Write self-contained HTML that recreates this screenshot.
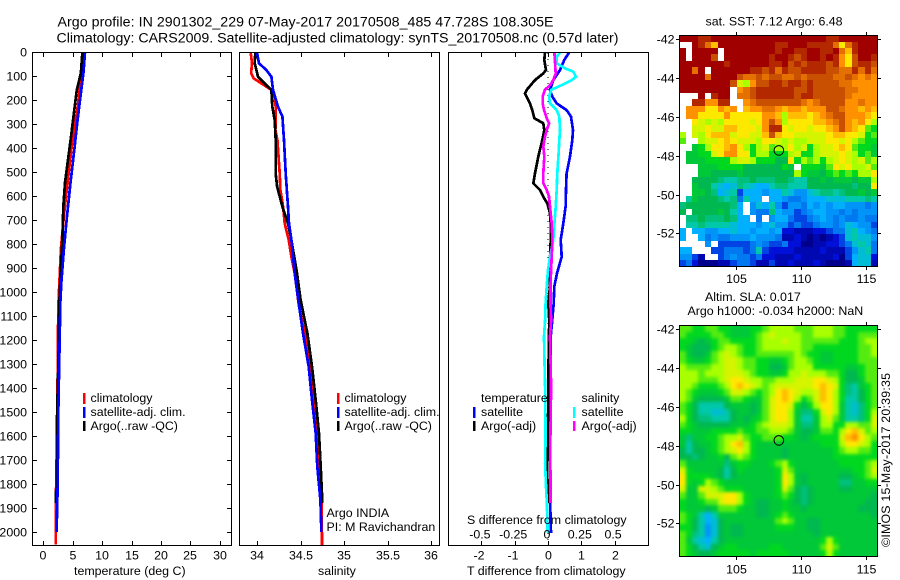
<!DOCTYPE html>
<html>
<head>
<meta charset="utf-8">
<title>Argo profile</title>
<style>
html,body{margin:0;padding:0;background:#fff;}
svg{display:block;font-family:"Liberation Sans",sans-serif;font-size:12.4px;fill:#000;}
.t{font-size:14.2px;}
.frame{fill:none;stroke:#000;stroke-width:1;shape-rendering:crispEdges;}
.tick{stroke:#000;stroke-width:1;shape-rendering:crispEdges;}
.ln{fill:none;stroke-width:2.7;shape-rendering:crispEdges;stroke-linejoin:round;}
.cell{shape-rendering:crispEdges;}
</style>
</head>
<body>
<svg id="fig" xmlns="http://www.w3.org/2000/svg" width="900" height="580" viewBox="0 0 900 580">
<defs>
<clipPath id="slaFrameClip"><rect x="680" y="326" width="198" height="231"/></clipPath>
<filter id="slaSoft" x="-5%" y="-5%" width="110%" height="110%" color-interpolation-filters="sRGB"><feGaussianBlur stdDeviation="1.5"/></filter>
</defs>
<rect x="0" y="0" width="900" height="580" fill="#fff"/>
<text class="t" x="57.5" y="26.5" textLength="496" lengthAdjust="spacing">Argo profile: IN 2901302_229 07-May-2017 20170508_485 47.728S 108.305E</text>
<text class="t" x="56.5" y="42.5" textLength="562" lengthAdjust="spacing">Climatology: CARS2009. Satellite-adjusted climatology: synTS_20170508.nc (0.57d later)</text>

<g id="maps">
<g id="sstCells"></g>
<g clip-path="url(#slaFrameClip)"><g id="slaCells" filter="url(#slaSoft)"></g></g>
</g>
<g id="series"></g>
<g id="axes"></g>

<rect class="frame" x="32.5" y="52.5" width="199" height="493"/>
<rect class="frame" x="239.5" y="52.5" width="200" height="493"/>
<rect class="frame" x="448.5" y="52.5" width="200" height="493"/>
<rect class="frame" x="679.5" y="35.5" width="198" height="231"/>
<rect class="frame" x="679.5" y="325.5" width="198" height="231"/>

<g>
<rect x="83" y="393" width="2.5" height="11" fill="#f00"/>
<rect x="83" y="407" width="2.5" height="11" fill="#00f"/>
<rect x="83" y="421" width="2.5" height="10" fill="#000"/>
<text x="90.5" y="402">climatology</text>
<text x="90.5" y="416">satellite-adj. clim.</text>
<text x="90.5" y="430">Argo(..raw -QC)</text>
</g>
<g>
<rect x="337" y="393" width="2.5" height="11" fill="#f00"/>
<rect x="337" y="407" width="2.5" height="11" fill="#00f"/>
<rect x="337" y="421" width="2.5" height="10" fill="#000"/>
<text x="344.5" y="402">climatology</text>
<text x="344.5" y="416">satellite-adj. clim.</text>
<text x="344.5" y="430">Argo(..raw -QC)</text>
<text x="326.5" y="517">Argo INDIA</text>
<text x="326.5" y="531">PI: M Ravichandran</text>
</g>
<g>
<text x="481" y="402">temperature</text>
<rect x="473" y="407" width="2.5" height="11" fill="#00f"/>
<rect x="473" y="421" width="2.5" height="10" fill="#000"/>
<text x="481" y="416">satellite</text>
<text x="481" y="430">Argo(-adj)</text>
<text x="581.5" y="402">salinity</text>
<rect x="573" y="407" width="2.5" height="11" fill="#0ff"/>
<rect x="573" y="421" width="2.5" height="10" fill="#f0f"/>
<text x="581.5" y="416">satellite</text>
<text x="581.5" y="430">Argo(-adj)</text>
</g>

<text x="74" y="575">temperature (deg C)</text>
<text x="318" y="575">salinity</text>
<text x="467" y="575">T difference from climatology</text>
<text x="467" y="524">S difference from climatology</text>

<text x="705.5" y="25.5">sat. SST: 7.12 Argo: 6.48</text>
<text x="705" y="301">Altim. SLA: 0.017</text>
<text x="687.5" y="315">Argo h1000: -0.034 h2000: NaN</text>
<text transform="translate(890,547) rotate(-90)" textLength="174" lengthAdjust="spacing">©IMOS 15-May-2017 20:39:35</text>
</svg>

<script>
const N = null;

/* temperature panel (deg C) */
const tempClimDepth = [0,80,150,228,300,400,541,680,820,950,1061,1300,1500,1800,1900,2053];
const tempClim = [6.7,6.5,6.2,5.85,5.4,4.8,4.15,3.5,3.0,2.75,2.55,2.45,2.4,2.2,2.1,2.1];
const tempSatDepth = [0,80,150,228,300,400,541,680,820,950,1061,1100,1300,1500,1800,2000];
const tempSat = [7.1,6.85,6.5,6.1,5.75,5.3,4.65,4.05,3.5,3.1,2.85,2.85,2.7,2.55,2.45,2.27];
const tempArgoDepth = [0,88,158,275,367,541,645,783,922,1061,1250,1600,1700,1820,1835,1880];
const tempArgo = [6.65,6.4,5.7,5.1,4.65,3.7,3.4,3.25,2.95,2.7,2.6,2.27,2.3,2.3,2.1,2.1];

/* salinity panel */
const salClimDepth = [3,47,89,110,131,158,193,228,325,367,506,575,644,714,783,853,922,1061,1172,1311,1450,1589,1728,1867,2054];
const salClim = [33.928,33.943,33.932,33.962,34.05,34.165,34.203,34.215,34.211,34.234,34.26,34.268,34.299,34.318,34.364,34.394,34.432,34.482,34.547,34.612,34.65,34.688,34.719,34.738,34.746];
const salSatDepth = [3,47,75,103,158,228,269,367,506,644,714,783,922,1033,1172,1311,1450,1589,1728,1867,2000];
const salSat = [34.0,34.023,34.107,34.165,34.184,34.241,34.291,34.31,34.329,34.356,34.367,34.394,34.432,34.474,34.528,34.593,34.631,34.673,34.692,34.727,34.738];
const salArgoDepth = [3,47,103,131,158,228,283,367,506,561,644,714,783,922,1033,1172,1311,1450,1589,1728,1880];
const salArgo = [33.98,33.974,34.012,34.088,34.165,34.176,34.203,34.215,34.215,34.23,34.291,34.356,34.394,34.459,34.5,34.578,34.631,34.673,34.711,34.73,34.75];

/* difference panel */
const diffTSatDepth = [3,33,75,117,158,186,214,242,269,325,367,436,506,575,644,714,783,853,922,977,1047,1116,1186,1500,1900,2005];
const diffTSat = [.63,.49,.36,.16,.06,.13,.26,.56,.69,.75,.73,.66,.56,.54,.53,.46,.38,.41,.27,.19,.17,.13,.08,.06,.07,.09];
const diffTArgoDepth = [3,33,75,89,117,158,172,214,242,276,297,325,367,436,506,547,575,603,631,672,714,783,839,853,977,1047,1116,1228,1463,1602,1741,1880];
const diffTArgo = [-.09,-.11,-.06,-.14,-.39,-.64,-.69,-.54,-.47,-.41,-.14,-.11,-.17,-.29,-.39,-.44,-.24,-.14,-.02,.06,.08,.08,.07,.06,.06,.01,.04,.02,.01,-.01,-.02,-.01];
const diffSSatDepth = [3,19,47,68,82,103,117,138,158,186,214,242,269,325,367,436,506,575,644,714,783,853,908,977,1047,1116,1186,1255,1394,1602,1714,1811,1880,2005];
const diffSSat = [.09,.065,.065,.128,.19,.21,.178,.103,.023,.008,.015,.065,.085,.09,.085,.078,.07,.065,.058,.048,.04,.015,.0,-.01,-.018,-.022,-.03,-.028,-.022,-.018,-.022,-.015,-.008,-.002];
const diffSArgoDepth = [3,47,89,117,138,158,186,214,242,276,297,325,367,394,436,506,547,575,603,644,714,783,853,908,977,1047,1116,1186,1394,1602,1741,1880];
const diffSArgo = [.048,.053,.058,.04,.015,-.023,-.04,-.04,-.03,-.01,.008,-.01,-.028,-.035,-.028,-.035,-.035,-.01,.008,.015,.028,.033,.028,.023,.018,.018,.023,.015,.023,.018,.018,.018];

/* axis ticks */
const depthTicks = [0,100,200,300,400,500,600,700,800,900,1000,1100,1200,1300,1400,1500,1600,1700,1800,1900,2000];
const tempTicks = [0,5,10,15,20,25,30];
const salTicks = [34,34.5,35,35.5,36];
const tDiffTicks = [-2,-1,0,1,2];
const sDiffTicks = [-0.5,-0.25,0,0.25,0.5];
const lonTicks = [105,110,115];
const latTicks = [-42,-44,-46,-48,-50,-52];

/* float position */
const floatLon = 108.305;
const floatLat = -47.728;

/* SST map cells, colour index 0 (cold) to 22 (warm), N = no data */
const sstGrid = [
[22,22,22,21,21,22,22,22,22,22,22,22,22,22,22,22,22,22,22,22,22,22,22,21,21,22,22,22,22,22,22],
[N,N,22,21,19,17,22,22,22,22,22,22,22,22,22,21,21,22,22,22,21,21,21,21,19,16,19,21,22,22,22],
[22,N,22,22,22,22,N,22,22,22,22,22,22,22,22,21,22,22,21,21,22,22,21,21,22,19,17,21,22,22,22],
[22,N,22,22,22,20,N,22,22,22,22,22,22,22,21,22,22,21,20,21,22,22,21,22,21,18,16,20,22,22,21],
[22,22,22,22,22,22,22,21,22,22,22,22,22,22,21,21,22,20,21,20,21,21,21,20,21,18,16,20,21,21,20],
[22,22,19,22,N,22,22,22,22,22,22,21,21,20,21,19,21,20,20,21,21,21,21,20,20,19,19,21,19,21,19],
[22,22,22,22,19,22,22,22,22,20,19,19,20,19,20,20,19,19,20,19,20,20,20,20,19,19,20,19,18,19,18],
[22,22,22,22,22,22,22,22,20,15,14,18,20,20,21,21,20,21,21,20,21,20,20,20,20,19,19,18,18,18,18],
[22,22,22,22,22,22,22,22,N,18,19,20,21,21,21,21,21,21,20,20,21,20,20,20,20,20,19,19,18,18,18],
[N,N,N,22,N,21,22,22,N,19,19,20,21,21,21,21,21,21,20,21,21,20,20,20,20,20,19,18,18,18,18],
[N,N,21,21,18,18,21,21,N,N,18,19,20,20,20,20,20,20,20,19,18,19,20,20,20,20,18,18,19,18,18],
[N,18,18,18,16,16,18,17,18,N,17,18,18,19,19,18,17,18,18,17,18,18,18,20,20,19,18,18,17,18,17],
[N,18,18,16,16,16,16,18,16,16,16,16,16,18,18,17,14,17,17,17,16,17,18,19,20,20,18,18,18,17,16],
[N,N,16,15,14,15,14,16,16,16,16,15,16,18,20,18,14,16,16,16,16,17,17,18,19,20,18,17,18,16,14],
[N,N,15,15,16,15,15,17,17,16,16,16,15,18,21,21,16,15,16,16,15,16,16,17,18,20,18,17,16,13,12],
[14,N,15,14,16,17,17,17,15,16,16,15,15,17,20,17,16,16,15,15,15,15,15,16,17,17,16,16,15,12,13],
[13,N,N,14,15,15,16,17,16,15,15,15,14,16,16,15,14,15,14,14,15,15,15,16,16,15,16,14,13,12,12],
[N,N,11,12,14,16,16,17,18,16,14,12,14,15,13,14,14,16,14,15,12,14,15,15,16,17,16,13,12,12,11],
[N,11,11,12,12,15,16,18,18,16,16,12,14,14,12,12,12,14,15,12,12,14,15,15,15,16,15,14,12,13,11],
[N,11,11,11,12,12,12,12,14,15,15,14,12,12,12,10,10,16,12,14,13,14,12,14,15,16,15,14,15,13,14],
[N,N,N,11,11,11,12,12,12,12,10,10,10,10,10,10,12,11,N,12,12,12,11,13,16,15,16,14,14,15,13],
[N,N,N,11,11,10,10,10,10,11,10,10,10,10,10,10,10,10,14,12,11,11,10,12,13,12,13,12,14,14,16],
[N,N,10,10,10,10,9,8,8,9,9,10,9,9,9,10,10,9,8,8,10,10,11,10,11,11,11,10,11,11,14],
[N,N,11,10,10,8,7,6,7,9,8,7,6,6,8,9,9,8,8,8,10,10,10,10,10,10,10,9,10,10,16],
[N,N,11,11,10,9,6,7,8,3,6,6,6,5,6,6,8,7,5,5,7,8,9,9,8,9,10,10,11,10,11],
[N,8,11,10,10,10,9,8,9,4,8,6,6,N,6,6,5,4,4,5,6,6,6,7,7,7,8,8,8,9,8],
[9,10,10,10,10,10,10,10,9,6,N,5,7,6,8,5,3,5,5,4,6,5,6,5,6,6,5,5,5,4,5],
[10,N,10,10,10,10,11,10,8,6,N,5,4,4,9,6,5,5,3,4,5,6,6,5,5,4,5,4,5,5,5],
[N,9,9,10,9,9,9,10,9,6,6,N,4,N,5,6,6,4,3,3,4,5,6,5,4,5,4,4,5,4,4],
[N,8,8,9,8,8,8,8,7,6,6,6,5,6,7,5,5,3,4,3,3,4,5,5,4,5,7,6,5,5,3],
[6,N,6,6,5,5,6,6,7,6,6,5,6,6,5,6,2,2,1,1,1,2,2,3,4,4,7,8,6,5,4],
[6,N,N,6,4,5,4,4,5,5,5,6,5,5,5,4,1,1,2,1,0,1,0,1,2,3,7,8,7,7,5],
[N,N,N,N,5,N,3,3,3,3,3,4,5,4,3,3,4,2,2,0,0,1,1,2,2,3,4,7,8,7,4],
[6,6,N,N,N,3,3,4,4,4,3,4,8,3,2,2,2,2,1,1,1,1,2,1,1,1,3,5,7,8,4],
[5,5,3,1,N,N,3,4,5,4,4,3,4,2,2,1,1,1,2,1,1,1,1,1,2,0,3,6,7,7,2],
[3,4,2,0,0,0,1,1,3,4,4,3,1,1,3,1,1,2,1,1,1,2,1,0,0,0,1,6,7,7,1]
];

/* SLA map cells, colour index on the same scale */
const slaGrid = [
[13,13,12,12,13,13,12,12,11,11,11,12,12,13,14,14,14,14,13,13,13,14,14,14,13,13,12,12,12,12,12],
[13,12,12,12,12,13,13,12,11,11,11,12,13,14,15,14,14,14,14,13,13,14,14,14,13,13,12,12,13,13,13],
[12,12,11,10,11,12,13,13,12,12,12,12,13,14,14,14,15,14,14,13,13,13,13,13,13,12,12,12,13,14,14],
[12,11,10,10,10,12,13,14,14,13,12,12,13,14,14,14,14,14,14,13,13,12,12,12,12,12,12,12,13,13,14],
[13,11,10,10,11,13,14,15,14,13,12,12,13,13,13,13,13,13,14,13,12,12,11,11,12,12,12,12,13,13,14],
[13,12,11,11,12,13,14,15,15,14,13,13,12,12,11,11,12,13,14,14,13,12,11,11,12,12,12,12,13,13,13],
[14,13,13,13,13,14,14,15,15,14,13,13,12,12,10,10,11,13,14,14,14,12,12,12,12,12,11,11,12,13,13],
[14,14,14,13,14,14,14,15,15,15,14,13,12,12,11,11,12,14,14,15,14,14,14,13,13,12,10,10,12,13,13],
[14,14,14,13,13,13,14,15,16,16,15,14,14,13,13,14,14,14,15,15,15,16,16,15,14,12,10,10,11,13,13],
[14,14,13,12,12,12,13,14,16,17,16,15,14,13,14,15,15,15,15,15,15,16,17,16,15,12,9,8,11,12,13],
[14,13,12,11,11,11,12,13,15,15,14,13,12,13,14,16,17,16,15,14,14,15,17,16,14,12,9,8,10,12,13],
[14,13,11,10,10,10,10,11,13,13,12,11,11,13,15,16,17,16,14,12,13,15,17,16,14,12,8,8,10,12,13],
[13,12,10,8,8,8,8,10,11,11,11,10,11,13,15,16,16,15,12,10,12,14,16,16,14,11,8,7,9,12,13],
[13,12,10,8,8,7,7,8,10,11,11,10,11,13,15,16,16,14,11,9,9,12,15,16,14,11,8,7,9,12,14],
[14,12,10,9,9,8,8,8,10,11,10,11,12,13,15,16,16,14,11,8,8,11,14,15,13,11,8,8,9,12,15],
[13,12,11,10,10,10,10,10,11,11,11,12,13,14,15,15,15,14,11,9,9,11,14,14,12,12,14,14,13,13,15],
[12,12,11,11,11,12,12,12,12,13,12,12,13,13,14,14,14,13,11,10,10,11,13,13,12,14,16,17,15,13,14],
[11,9,11,11,12,12,13,14,14,15,13,12,12,13,13,13,12,12,11,10,11,12,12,12,12,15,17,18,16,14,13],
[11,8,10,11,11,12,13,14,16,17,14,12,11,11,11,11,11,11,11,11,11,11,12,12,12,14,16,16,15,14,12],
[10,8,10,10,11,12,13,14,15,16,14,12,11,11,11,11,10,11,11,11,11,11,11,11,12,13,14,14,13,13,12],
[10,10,9,10,11,11,12,10,13,14,13,12,11,11,11,11,10,11,11,11,11,11,11,11,12,12,12,12,12,12,12],
[13,11,11,11,11,11,11,9,11,12,12,11,11,11,12,13,14,12,11,11,11,11,11,11,11,12,12,12,12,13,14],
[15,12,11,11,11,11,10,8,10,12,11,11,11,11,11,12,15,13,11,11,11,11,11,11,11,11,11,12,12,13,15],
[16,12,12,12,12,11,10,8,10,11,11,11,11,11,11,12,16,14,11,10,11,11,11,11,11,10,10,11,12,13,14],
[16,12,11,12,14,13,12,11,11,11,11,11,11,11,11,12,16,14,11,10,11,11,11,11,11,9,9,11,11,12,12],
[15,11,11,15,15,14,13,12,12,12,11,11,11,11,11,12,15,13,10,9,10,11,11,11,11,10,10,11,11,11,11],
[13,11,11,13,15,15,15,16,16,14,12,11,11,11,11,12,13,12,10,9,10,11,11,11,11,11,11,11,11,11,10],
[12,11,11,12,13,13,15,16,16,14,12,11,10,10,11,11,12,11,10,9,10,11,11,11,11,11,11,11,11,10,10],
[12,11,11,11,10,11,13,13,13,12,11,11,10,10,11,11,12,11,11,10,11,11,11,11,11,11,11,11,10,10,10],
[13,12,11,8,6,8,11,11,11,11,11,11,10,10,11,12,13,12,11,11,11,11,11,11,11,11,11,11,11,11,10],
[13,12,10,8,6,7,10,11,11,11,11,11,11,11,11,13,14,13,11,11,10,10,11,11,11,11,11,11,11,11,11],
[12,12,10,8,5,7,10,11,10,10,11,11,11,11,11,12,12,12,11,11,10,10,11,11,11,11,11,11,11,11,11],
[13,12,9,8,5,7,10,11,10,10,11,11,11,11,11,11,11,11,11,11,11,10,11,11,11,11,11,11,11,11,11],
[13,11,8,7,6,8,10,11,11,11,11,11,11,11,11,11,11,11,11,11,11,11,12,14,12,11,11,11,11,11,11],
[13,12,10,8,7,10,11,12,12,11,11,11,11,11,12,12,11,11,11,11,11,11,13,15,13,11,11,11,11,11,11],
[13,12,11,10,10,11,12,12,12,12,12,11,12,12,12,12,12,11,11,11,11,11,12,14,12,11,11,11,11,11,11]
];

const SVGNS = 'http://www.w3.org/2000/svg';
const seriesG = document.getElementById('series');
const axesG = document.getElementById('axes');
const mapsG = document.getElementById('maps');
const sstCells = document.getElementById('sstCells');
const slaCells = document.getElementById('slaCells');

/* axis functions */
const yDepth = d => 52 + 0.24 * d;
const xTemp = t => 43.3 + 5.88 * t;
const xSal = s => 257 + 87.2 * (s - 34);
const xTDiff = t => 548 + 33.3 * t;
const xSDiff = s => 548 + 133.2 * s;
const xLon = lon => 736 + (lon - 105) * 12.97;
const ySstLat = lat => 39.3 + (-42 - lat) * 19.4;
const ySlaLat = lat => 329.3 + (-42 - lat) * 19.4;

function make(tag, attrs, parent) {
  const e = document.createElementNS(SVGNS, tag);
  for (const k in attrs) e.setAttribute(k, attrs[k]);
  parent.appendChild(e);
  return e;
}

function drawLine(depths, values, xFn, color, name) {
  const pts = depths.map((d, i) => xFn(values[i]).toFixed(1) + ',' + yDepth(d).toFixed(1)).join(' ');
  const line = make('polyline', {class: 'ln', points: pts, stroke: color}, seriesG);
  
  
}

function drawTick(x1, y1, x2, y2) {
  const t = make('line', {class: 'tick', x1: x1, y1: y1, x2: x2, y2: y2}, axesG);
  
  
}

function drawLabel(x, y, text, anchor) {
  const t = make('text', {x: x, y: y, 'text-anchor': anchor}, axesG);
  t.textContent = text;
  
  
}

/* profile lines */
drawLine(tempClimDepth, tempClim, xTemp, '#f00', 'temperature-climatology-line');
drawLine(tempArgoDepth, tempArgo, xTemp, '#000', 'temperature-argo-line');
drawLine(tempSatDepth, tempSat, xTemp, '#00f', 'temperature-satellite-line');
drawLine(salClimDepth, salClim, xSal, '#f00', 'salinity-climatology-line');
drawLine(salArgoDepth, salArgo, xSal, '#000', 'salinity-argo-line');
drawLine(salSatDepth, salSat, xSal, '#00f', 'salinity-satellite-line');

const zero = make('line', {x1: xTDiff(0), x2: xTDiff(0), y1: 53, y2: 545, stroke: '#000', 'stroke-width': 1, 'stroke-dasharray': '1 5', 'shape-rendering': 'crispEdges'}, seriesG);



drawLine(diffTSatDepth, diffTSat, xTDiff, '#00f', 't-difference-satellite-line');
drawLine(diffTArgoDepth, diffTArgo, xTDiff, '#000', 't-difference-argo-line');
drawLine(diffSSatDepth, diffSSat, xSDiff, '#0ff', 's-difference-satellite-line');
drawLine(diffSArgoDepth, diffSArgo, xSDiff, '#f0f', 's-difference-argo-line');

/* profile axes */
depthTicks.forEach(d => {
  const y = Math.round(yDepth(d)) + 0.5;
  drawTick(33, y, 37, y);
  drawTick(227, y, 231, y);
  drawLabel(27, y + 4, String(d), 'end');
});
tempTicks.forEach(t => {
  const x = Math.round(xTemp(t)) + 0.5;
  drawTick(x, 53, x, 57);
  drawTick(x, 541, x, 545);
  drawLabel(x - 0.5, 559.5, String(t), 'middle');
});
salTicks.forEach(s => {
  const x = Math.round(xSal(s)) + 0.5;
  drawTick(x, 53, x, 57);
  drawTick(x, 541, x, 545);
  drawLabel(x - 0.5, 559.5, String(s), 'middle');
});
tDiffTicks.forEach(t => {
  const x = Math.round(xTDiff(t)) + 0.5;
  drawTick(x, 53, x, 57);
  drawTick(x, 541, x, 545);
  drawLabel(x - (t < 0 ? 2.5 : 0), 559.5, String(t), 'middle');
});
sDiffTicks.forEach(s => {
  drawLabel(xSDiff(s) - (s === 0 ? 1 : 1.5), 538.5, String(s), 'middle');
});

/* map colour scale */
const colorStops = ['#00008c','#0010d8','#0078f0','#00b0ff','#00c8a8','#00b850','#00d820','#a8ff00','#ffe800','#ff9000','#c85000','#a00000'];
function hexToRgb(h) {
  return [parseInt(h.slice(1,3),16), parseInt(h.slice(3,5),16), parseInt(h.slice(5,7),16)];
}
function colorOf(v) {
  const p = Math.max(0, Math.min(22, v)) / 2;
  const i = Math.min(10, Math.floor(p));
  const f = p - i;
  const a = hexToRgb(colorStops[i]);
  const b = hexToRgb(colorStops[i + 1]);
  return 'rgb(' + a.map((c, k) => Math.round(c + (b[k] - c) * f)).join(',') + ')';
}

const mapLonLeft = 100.63;
const mapLonStep = 15.27 / 31;
const mapLatTop = -41.79;
const mapLatStep = 11.92 / 36;

function drawGrid(grid, yLat, name, parent, bleed) {
  grid.forEach((row, j) => {
    row.forEach((v, i) => {
      if (v === null) return;
      let x0 = Math.round(xLon(mapLonLeft + i * mapLonStep));
      let x1 = Math.round(xLon(mapLonLeft + (i + 1) * mapLonStep));
      let y0 = Math.round(yLat(mapLatTop - j * mapLatStep));
      let y1 = Math.round(yLat(mapLatTop - (j + 1) * mapLatStep));
      if (i === 0) x0 -= bleed;
      if (i === row.length - 1) x1 += bleed;
      if (j === 0) y0 -= bleed;
      if (j === grid.length - 1) y1 += bleed;
      const c = make('rect', {class: 'cell', x: x0, y: y0, width: x1 - x0, height: y1 - y0, fill: colorOf(v)}, parent);
      
      
    });
  });
}
drawGrid(sstGrid, ySstLat, 'sst-map-cell', sstCells, 0);
drawGrid(slaGrid, ySlaLat, 'sla-map-cell', slaCells, 8);

/* map axes */
function drawMapAxes(yLat, top, bottom, labelY) {
  lonTicks.forEach(lon => {
    const x = Math.round(xLon(lon)) + 0.5;
    drawTick(x, top - 3, x, top);
    drawTick(x, bottom, x, bottom + 3);
    drawLabel(x, labelY, String(lon), 'middle');
  });
  latTicks.forEach(lat => {
    const y = Math.round(yLat(lat)) + 0.5;
    drawTick(676, y, 679, y);
    drawTick(878, y, 881, y);
    drawLabel(674.5, y + 4, '-' + Math.abs(lat), 'end');
  });
}
drawMapAxes(ySstLat, 35, 267, 283);
drawMapAxes(ySlaLat, 325, 557, 573.5);

/* float markers */
const marker1 = make('circle', {cx: xLon(floatLon), cy: ySstLat(floatLat), r: 4.8, fill: 'none', stroke: '#000', 'stroke-width': 1}, mapsG);


const marker2 = make('circle', {cx: xLon(floatLon), cy: ySlaLat(floatLat), r: 4.8, fill: 'none', stroke: '#000', 'stroke-width': 1}, mapsG);


</script>
</body>
</html>
